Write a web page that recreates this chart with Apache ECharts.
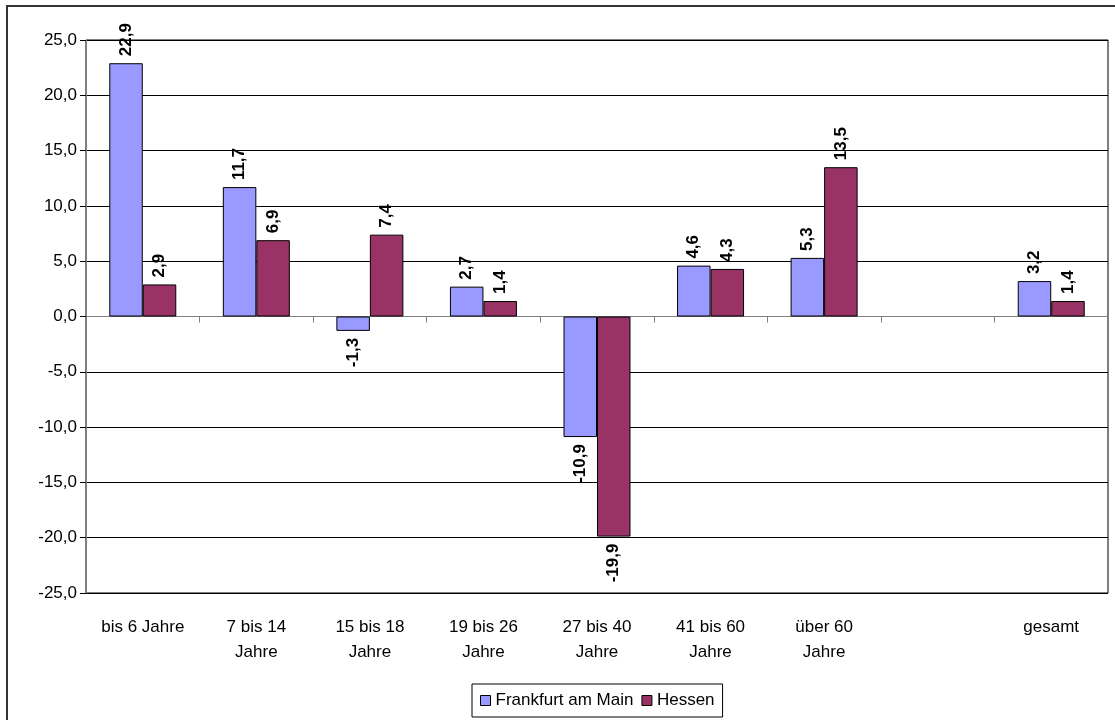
<!DOCTYPE html>
<html>
<head>
<meta charset="utf-8">
<script src="https://cdn.jsdelivr.net/npm/echarts@6/dist/echarts.min.js"></script>
<style>
  html, body { margin: 0; padding: 0; background: #fff; }
  #chart { width: 1115px; height: 720px; }
</style>
</head>
<body>
<div id="chart"></div>
<script>
var categories = ['bis 6 Jahre', '7 bis 14\nJahre', '15 bis 18\nJahre', '19 bis 26\nJahre', '27 bis 40\nJahre', '41 bis 60\nJahre', 'über 60\nJahre', '', 'gesamt'];
var frankfurt = [22.9, 11.7, -1.3, 2.7, -10.9, 4.6, 5.3, null, 3.2];
var hessen = [2.9, 6.9, 7.4, 1.4, -19.9, 4.3, 13.5, null, 1.4];
var seriesNames = ['Frankfurt am Main', 'Hessen'];
var colorPalette = ['#9999ff', '#993366'];

var fontFamily = '"Liberation Sans", Arial, sans-serif';

function fmt(v) {
  return v.toFixed(1).replace('.', ',');
}

// label on the outer end of each bar, reading upwards
function makeData(values) {
  return values.map(function (v) {
    if (v === null) return '-';
    var neg = v < 0;
    return {
      value: v,
      label: {
        position: neg ? 'bottom' : 'top',
        align: neg ? 'right' : 'left'
      }
    };
  });
}

var chartDom = document.getElementById('chart');
var myChart = echarts.init(chartDom);

var barLabel = {
  show: true,
  rotate: 90,
  verticalAlign: 'middle',
  distance: 7,
  color: '#000',
  fontFamily: fontFamily,
  fontWeight: 'bold',
  fontSize: 17,
  formatter: function (p) { return fmt(p.value); }
};

var option = {
  animation: false,
  backgroundColor: '#fff',
  graphic: [{
    type: 'rect',
    shape: { x: 7, y: 6, width: 1130, height: 740 },
    style: { fill: 'none', stroke: '#333', lineWidth: 2 },
    silent: true
  }],
  grid: {
    left: 86,
    right: 7,
    top: 40,
    bottom: 127,
    show: true,
    borderColor: '#000',
    borderWidth: 1
  },
  legend: {
    bottom: 3,
    left: 472,
    itemWidth: 10,
    itemHeight: 10,
    itemGap: 8,
    padding: [8, 8, 8, 8],
    borderColor: '#000',
    borderWidth: 1,
    textStyle: { fontFamily: fontFamily, fontSize: 17, color: '#000' },
    data: seriesNames.map(function (n, i) {
      return { name: n, icon: 'rect', itemStyle: { color: colorPalette[i], borderColor: '#000', borderWidth: 1 } };
    })
  },
  xAxis: [{
    type: 'category',
    data: categories,
    axisLine: { onZero: true, lineStyle: { color: '#808080', width: 1 } },
    axisTick: { show: true, length: 6, lineStyle: { color: '#808080' } },
    axisLabel: { show: false },
    splitLine: { show: false }
  }, {
    type: 'category',
    data: categories,
    position: 'bottom',
    axisLine: { show: false, onZero: false },
    axisTick: { show: false },
    axisLabel: {
      margin: 22,
      interval: 0,
      color: '#000',
      fontFamily: fontFamily,
      fontSize: 17,
      lineHeight: 25
    }
  }],
  yAxis: {
    type: 'value',
    min: -25,
    max: 25,
    interval: 5,
    axisLine: { show: true, lineStyle: { color: '#808080' } },
    axisTick: { show: true, length: 6, lineStyle: { color: '#000' } },
    axisLabel: {
      margin: 9,
      color: '#000',
      fontFamily: fontFamily,
      fontSize: 17,
      formatter: function (v) { return fmt(v); }
    },
    splitLine: { lineStyle: { color: '#000', width: 1 } }
  },
  series: [{
    name: seriesNames[0],
    type: 'bar',
    data: makeData(frankfurt),
    barWidth: '29.5%',
    barGap: '0%',
    itemStyle: { color: colorPalette[0], borderColor: '#000', borderWidth: 1 },
    label: barLabel
  }, {
    name: seriesNames[1],
    type: 'bar',
    data: makeData(hessen),
    barWidth: '29.5%',
    barGap: '0%',
    itemStyle: { color: colorPalette[1], borderColor: '#000', borderWidth: 1 },
    label: barLabel
  }]
};

option && myChart.setOption(option);
</script>
</body>
</html>
